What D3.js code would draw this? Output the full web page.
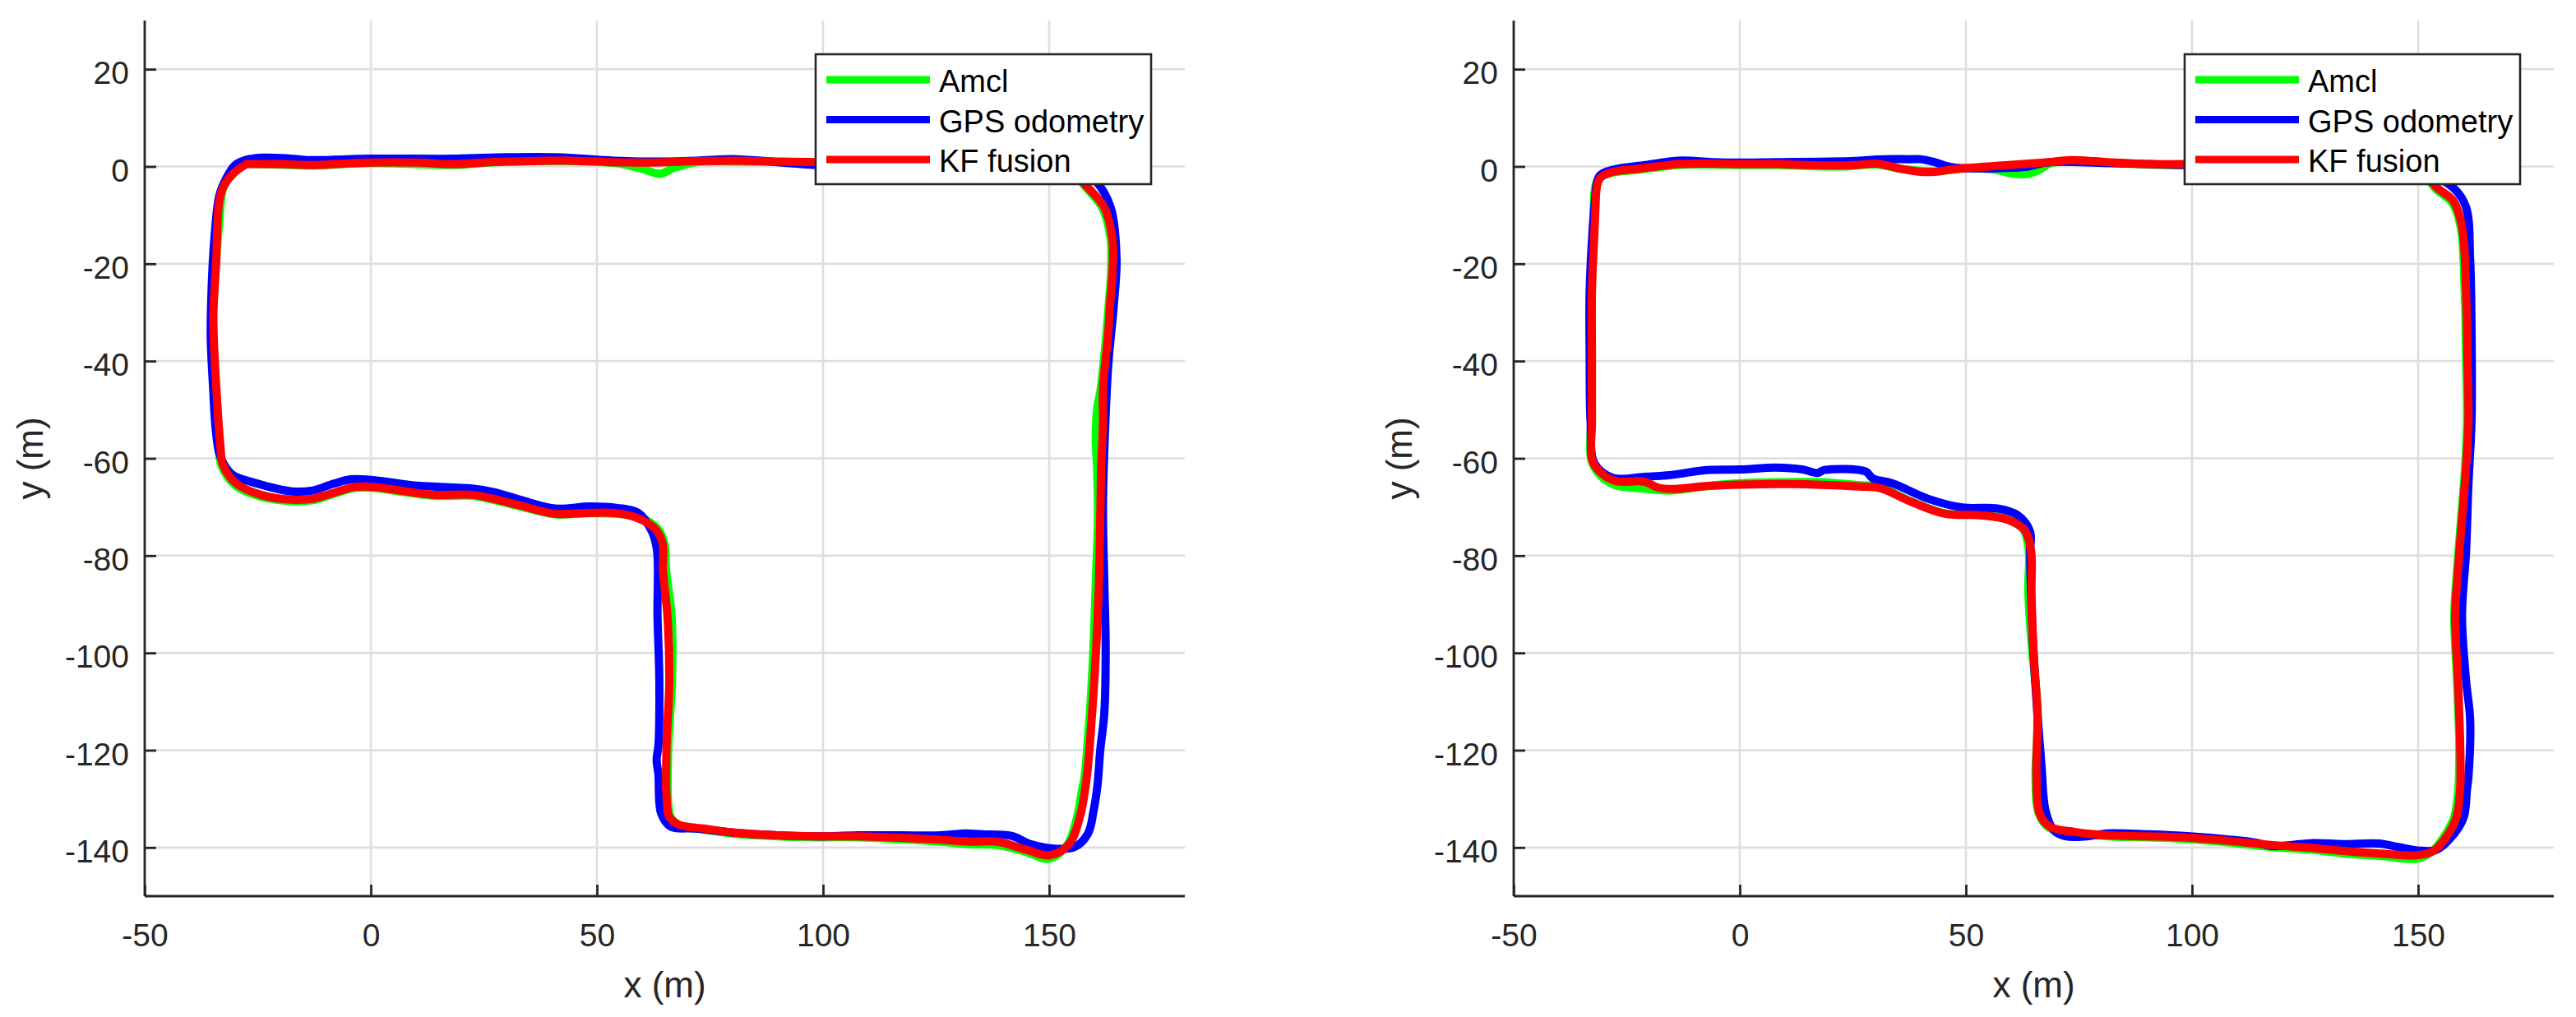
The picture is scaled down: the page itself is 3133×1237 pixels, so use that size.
<!DOCTYPE html>
<html>
<head>
<meta charset="utf-8">
<script src="https://cdn.jsdelivr.net/npm/d3@7"></script>
<style>
  html, body { margin: 0; padding: 0; background: #fff; }
  svg { display: block; font-family: "Liberation Sans", Arial, Helvetica, sans-serif; }
</style>
</head>
<body>
<svg id="chart" width="3133" height="1237"></svg>
<script>
// ---- data (metres) ----
const seriesNames = ["Amcl", "GPS odometry", "KF fusion"];
const seriesColors = ["#00ff00", "#0000ff", "#ff0000"];

const xTicks = [-50, 0, 50, 100, 150];
const yTicks = [20, 0, -20, -40, -60, -80, -100, -120, -140];

// left run
const amclLeft = [[-28,0.6],[-20,0.4],[-13,0.2],[0,0.7],[19,0.3],[26,0.8],[44,1.1],[55,0.6],[60,-0.5],[64,-1.5],[67,-0.3],[72,0.9],[81,1.0],[99,0.8],[120,0.5],[140,0.2],[155,-1.5],[158.4,-4.6],[161.8,-8.6],[163.6,-15],[163.7,-21.7],[163.2,-28],[162.6,-35],[161.4,-45.7],[160.6,-50],[160.3,-56],[160.6,-62],[160.8,-72],[160.3,-85.7],[159.8,-99],[159,-112.4],[157.8,-125.7],[157.3,-128],[156.2,-133.7],[154,-139.5],[150,-142.3],[144.5,-140.8],[138.6,-139.5],[132.5,-139.3],[126,-138.8],[117,-138.3],[108,-137.9],[98.9,-137.9],[89.9,-137.7],[80.8,-137.2],[73.6,-136.3],[68.3,-135.5],[66.3,-133.7],[65.7,-129.7],[65.8,-119],[66.6,-105.7],[66.5,-92.4],[65.3,-83],[64.9,-77.4],[63.3,-74.3],[59.4,-72.1],[54.5,-71.4],[48.4,-71.3],[40.7,-71.5],[33.1,-69.9],[27,-68.5],[22.4,-67.7],[13.9,-67.7],[6.3,-66.8],[0.9,-66.1],[-3.6,-66.1],[-8.2,-67.3],[-12.8,-68.6],[-17.4,-68.8],[-24.3,-67.9],[-29.9,-65.6],[-33,-61.5],[-33.7,-57],[-34.3,-48.4],[-35.1,-35.1],[-34.5,-23.1],[-33.6,-12.4],[-32.5,-4],[-30.5,-1.6],[-28,0.6]];

const gpsLeft = [[-27,1.5],[-30,0.3],[-32,-2.5],[-33.5,-6],[-34.6,-15],[-35.2,-25],[-35.4,-35],[-34.9,-45],[-34.3,-54],[-33.5,-59],[-32.3,-61.5],[-30.4,-63.5],[-25.8,-65],[-17.4,-66.8],[-12.8,-66.6],[-8.2,-65.2],[-4.4,-64.3],[0.9,-64.5],[10.1,-65.6],[22.4,-66.2],[27,-66.9],[33,-68.5],[40.7,-70.3],[48.4,-69.9],[54.5,-70.2],[59.1,-71.2],[62.2,-75.1],[63.3,-79],[63.4,-92.4],[63.8,-105.7],[63.6,-119],[63.2,-122],[63.6,-125],[64.2,-133],[66.3,-135.7],[71.8,-136.1],[80.8,-137],[90,-137.5],[100,-137.7],[108,-137.5],[117,-137.5],[126,-137.5],[131.5,-137.1],[135,-137.3],[141.6,-137.6],[145.9,-139.3],[150.7,-140.2],[155.6,-139.9],[158.6,-137.1],[159.8,-132.6],[160.7,-127.1],[161.3,-120],[162.2,-112.4],[162.5,-99],[162.2,-85.7],[161.9,-69.7],[162.5,-51],[163.1,-40.4],[164.3,-28.4],[164.9,-19],[163.6,-8.4],[160.4,-3.1],[156,-0.5],[140,0.3],[120,0.4],[99,0.3],[90,0.9],[80.8,1.5],[72,1.2],[62,1.0],[53.7,1.2],[41,1.9],[30,1.9],[19,1.6],[0,1.6],[-13.3,1.3],[-18.7,1.7],[-24,1.8],[-27,1.5]];

const kfLeft = [[-27.5,0.5],[-20,0.5],[-13,0.3],[-6,0.6],[0,0.8],[10,0.8],[19,0.5],[26,0.9],[35,1.1],[44,1.2],[53,0.9],[62,0.8],[72,1.1],[81,1.2],[90,1.0],[99,0.9],[120,0.6],[140,0.3],[155,-1.5],[158.6,-4.4],[162.2,-8.4],[164,-15],[164,-21.7],[163.5,-28],[163,-35],[161.9,-45.7],[161.9,-52.4],[161.5,-62],[161.3,-72.4],[161,-85.7],[160.4,-99],[159.5,-112.4],[158.3,-125.7],[156.8,-133.7],[154.4,-139.3],[150.1,-141.6],[144.7,-140.4],[138.6,-138.8],[132.5,-138.8],[126,-138.4],[117,-138],[108,-137.7],[98.9,-137.7],[89.9,-137.5],[80.8,-137],[73.6,-136.1],[68.1,-135.3],[66,-133.7],[65.4,-129.7],[65.4,-119],[66,-105.7],[65.6,-92.4],[64.6,-83],[64.5,-77.4],[62.9,-74.5],[59.1,-72.3],[54.5,-71.3],[48.4,-71.2],[40.7,-71.4],[33.1,-69.7],[27,-68.3],[22.4,-67.5],[13.9,-67.5],[6.3,-66.6],[0.9,-65.9],[-3.6,-65.9],[-8.2,-67.1],[-12.8,-68.3],[-17.4,-68.5],[-24.3,-67.5],[-29.7,-65.2],[-32.7,-61.3],[-33.3,-57],[-34,-48],[-34.7,-36],[-34.8,-30],[-34.2,-19.7],[-33.5,-7],[-32.5,-4],[-30.5,-1.5],[-27.5,0.5]];

// right run
const amclRight = [[-32.2,-5.7],[-31.2,-2.4],[-28.3,-1.3],[-22.7,-0.7],[-13.5,0.3],[-6.2,0.4],[0,0.3],[8.3,0.3],[15,0.1],[22.9,0.0],[30.2,0.4],[35.7,-0.5],[43,-1.0],[50.3,-0.4],[56,-0.6],[60,-1.4],[63,-1.6],[66,-0.8],[68.5,0.6],[73.1,1.1],[81.3,0.7],[90.4,0.4],[99.5,0.3],[120,0.2],[140,0.0],[151,-1.7],[154,-4.7],[157.5,-7.4],[159.4,-12.4],[160.3,-25.7],[160.6,-39.1],[160.8,-52.4],[160.4,-61.7],[159.5,-72.4],[158.6,-83.1],[158,-92.4],[158.6,-105.7],[159.1,-119],[158.9,-128],[158,-133.7],[156,-137.4],[153,-140.9],[149.8,-142.3],[142.5,-141.8],[133.4,-141.2],[126.8,-140.5],[117.7,-139.9],[108.6,-139],[99.5,-138.3],[90.4,-137.9],[81.3,-137.7],[74,-137],[68.5,-136],[66.1,-133],[65.4,-125.7],[65.9,-112.4],[64.6,-99],[63.8,-87.5],[63.9,-79],[62.7,-74.6],[59,-72.4],[53.1,-71.6],[45.4,-71.3],[37.8,-68.8],[30.9,-65.9],[26.3,-65.5],[18,-64.9],[11,-64.9],[0.1,-65.1],[-7.4,-65.7],[-15,-66.6],[-18.1,-66.5],[-21.1,-66.2],[-27.3,-65.6],[-30.5,-63.8],[-32.8,-60.5],[-32.9,-52.4],[-32.9,-39.1],[-32.9,-25.7],[-32.4,-12.4],[-32.2,-5.7]];

const gpsRight = [[-31.8,-4.4],[-30.9,-1.8],[-28.1,-0.7],[-20.8,0.3],[-13.5,1.2],[-6.2,0.9],[0,0.8],[8.3,0.9],[20,1.0],[26.6,1.2],[32,1.5],[37.5,1.5],[40,1.5],[43,0.9],[46.6,-0.1],[53.9,-0.4],[59,-0.3],[63,-0.1],[68.5,0.9],[81.3,0.7],[99.5,0.3],[120,0.2],[140,0.1],[152,-1.5],[157.8,-4.4],[160.6,-8.4],[161.5,-19.1],[161.8,-32.4],[161.8,-52.4],[161.1,-65.7],[160.6,-79.1],[159.7,-92.4],[160.6,-105.7],[161.5,-113.7],[161.1,-125.7],[160.8,-128],[160.1,-133.7],[157.6,-137.6],[154,-140.5],[149.8,-140.6],[145.5,-139.9],[141.3,-139.2],[133.4,-139.3],[126.8,-139.1],[117.7,-139.7],[114.1,-139],[108.6,-138.4],[99.5,-137.7],[90.4,-137.3],[81.3,-137.1],[76.7,-137.7],[72.1,-137.7],[69.4,-136.4],[67.6,-132.4],[66.7,-123.1],[65.8,-112.4],[64.9,-99],[64.4,-87.5],[64.2,-79],[64.2,-75.1],[61.5,-71.7],[56.9,-70.3],[49.2,-70.1],[41.6,-68.3],[33.9,-65.2],[29.4,-64.1],[27.8,-62.7],[18.7,-62.4],[17.1,-63],[14,-62.3],[7.9,-61.9],[0.1,-62.3],[-7.4,-62.4],[-15,-63.4],[-21.1,-63.8],[-28.1,-64],[-32.1,-61.1],[-33,-52.4],[-33.2,-39.1],[-33.2,-25.7],[-32.5,-12.4],[-31.8,-4.4]];

const kfRight = [[-31.8,-5.7],[-30.9,-2.4],[-28.1,-1.1],[-22.7,-0.5],[-13.5,0.5],[-6.2,0.6],[0,0.5],[8.3,0.5],[15,0.3],[22.9,0.2],[27,0.4],[30.2,0.6],[33,0.1],[35.7,-0.5],[40,-1.1],[43,-1.1],[47,-0.6],[50.3,-0.3],[59.4,0.3],[68.5,0.9],[73.1,1.3],[81.3,0.9],[90.4,0.5],[99.5,0.5],[120,0.4],[140,0.2],[151,-1.5],[154.2,-4.4],[157.8,-7.1],[159.7,-12.4],[160.6,-25.7],[160.9,-39.1],[161.1,-52.4],[160.6,-61.7],[159.7,-72.4],[158.8,-83.1],[158.2,-92.4],[158.8,-105.7],[159.3,-119],[159.3,-128],[158.5,-133.7],[156.4,-137.6],[153.4,-140.7],[149.8,-141.6],[142.5,-141.3],[133.4,-140.7],[126.8,-140.1],[117.7,-139.5],[108.6,-138.7],[99.5,-138],[90.4,-137.7],[81.3,-137.5],[74,-136.8],[68.5,-135.7],[66.3,-133],[65.6,-125.7],[65.8,-112.4],[64.9,-99],[64.5,-87.5],[64.4,-79],[63,-74.8],[59.2,-72.6],[53.1,-71.7],[45.4,-71.4],[37.8,-68.9],[30.9,-66.1],[26.3,-65.8],[11,-65.3],[0.1,-65.4],[-7.4,-65.7],[-15,-66.3],[-18.1,-66],[-21.1,-64.8],[-27.3,-64.7],[-30.3,-63.3],[-32.6,-60.5],[-32.7,-52.4],[-32.7,-39.1],[-32.7,-25.7],[-32.1,-12.4],[-31.8,-5.7]];

const panels = [
  { left: 176, series: [amclLeft, gpsLeft, kfLeft] },
  { left: 1841, series: [amclRight, gpsRight, kfRight] }
];

// ---- layout ----
const svg = d3.select("#chart");
const plotTop = 25, plotHeight = 1065, plotWidth = 1265;
const axisColor = "#262626";

const x = d3.scaleLinear().domain([-50, 180]).range([0, plotWidth]);
const y = d3.scaleLinear().domain([-150, 30]).range([plotHeight, 0]);

const line = d3
  .line()
  .x((d) => x(d[0]))
  .y((d) => y(d[1]))
  .curve(d3.curveCatmullRom.alpha(0.5));

panels.forEach((p, pi) => {
  const g = svg.append("g").attr("transform", `translate(${p.left},${plotTop})`);

  // grid
  g.append("g")
    .selectAll("line")
    .data(xTicks)
    .join("line")
    .attr("x1", (d) => x(d))
    .attr("x2", (d) => x(d))
    .attr("y1", 0)
    .attr("y2", plotHeight)
    .attr("stroke", "#dedede")
    .attr("stroke-width", 2.6);

  g.append("g")
    .selectAll("line")
    .data(yTicks)
    .join("line")
    .attr("x1", 0)
    .attr("x2", plotWidth)
    .attr("y1", (d) => y(d))
    .attr("y2", (d) => y(d))
    .attr("stroke", "#dedede")
    .attr("stroke-width", 2.6);

  // trajectories
  const clipId = `clip${pi}`;
  g.append("clipPath")
    .attr("id", clipId)
    .append("rect")
    .attr("width", plotWidth)
    .attr("height", plotHeight);

  g.append("g")
    .attr("clip-path", `url(#${clipId})`)
    .selectAll("path")
    .data(p.series)
    .join("path")
    .attr("d", (d) => line(d))
    .attr("fill", "none")
    .attr("stroke", (d, i) => seriesColors[i])
    .attr("stroke-width", 10)
    .attr("stroke-linejoin", "round")
    .attr("stroke-linecap", "round");

  // axes
  const xAxis = g
    .append("g")
    .attr("transform", `translate(0,${plotHeight})`)
    .call(
      d3.axisBottom(x).tickValues(xTicks).tickSize(-14).tickPadding(0).tickFormat((d) => String(d))
    );
  const yAxis = g
    .append("g")
    .call(
      d3.axisLeft(y).tickValues(yTicks).tickSize(-14).tickPadding(0).tickFormat((d) => String(d))
    );

  [xAxis, yAxis].forEach((a) => {
    a.select(".domain").attr("stroke", axisColor).attr("stroke-width", 2.8);
    a.selectAll(".tick line").attr("stroke", axisColor).attr("stroke-width", 2.8);
    a.selectAll(".tick text")
      .attr("fill", axisColor)
      .style("font-size", "39px")
      .style("font-family", "'Liberation Sans', Arial, sans-serif");
  });
  xAxis.select(".domain").attr("d", `M0,0H${plotWidth}`);
  yAxis.select(".domain").attr("d", `M0,0V${plotHeight}`);
  xAxis.selectAll(".tick text").attr("y", 61).attr("dy", null);
  yAxis.selectAll(".tick text").attr("x", -19).attr("dy", 17.5);

  // axis labels
  g.append("text")
    .attr("x", plotWidth / 2)
    .attr("y", plotHeight + 123)
    .attr("text-anchor", "middle")
    .attr("fill", axisColor)
    .style("font-size", "44px")
    .text("x (m)");

  g.append("text")
    .attr("transform", `translate(-124,${plotHeight / 2}) rotate(-90)`)
    .attr("text-anchor", "middle")
    .attr("fill", axisColor)
    .style("font-size", "44px")
    .text("y (m)");

  // legend
  const legend = g.append("g").attr("transform", `translate(816,41)`);
  legend
    .append("rect")
    .attr("width", 408)
    .attr("height", 158)
    .attr("fill", "#fff")
    .attr("stroke", axisColor)
    .attr("stroke-width", 2.6);

  seriesNames.forEach((name, i) => {
    const ly = 31 + i * 48.5;
    legend
      .append("line")
      .attr("x1", 13)
      .attr("x2", 139)
      .attr("y1", ly)
      .attr("y2", ly)
      .attr("stroke", seriesColors[i])
      .attr("stroke-width", 9);
    legend
      .append("text")
      .attr("x", 150)
      .attr("y", ly + 15)
      .attr("fill", "#000")
      .style("font-size", "38px")
      .text(name);
  });
});
</script>
</body>
</html>
